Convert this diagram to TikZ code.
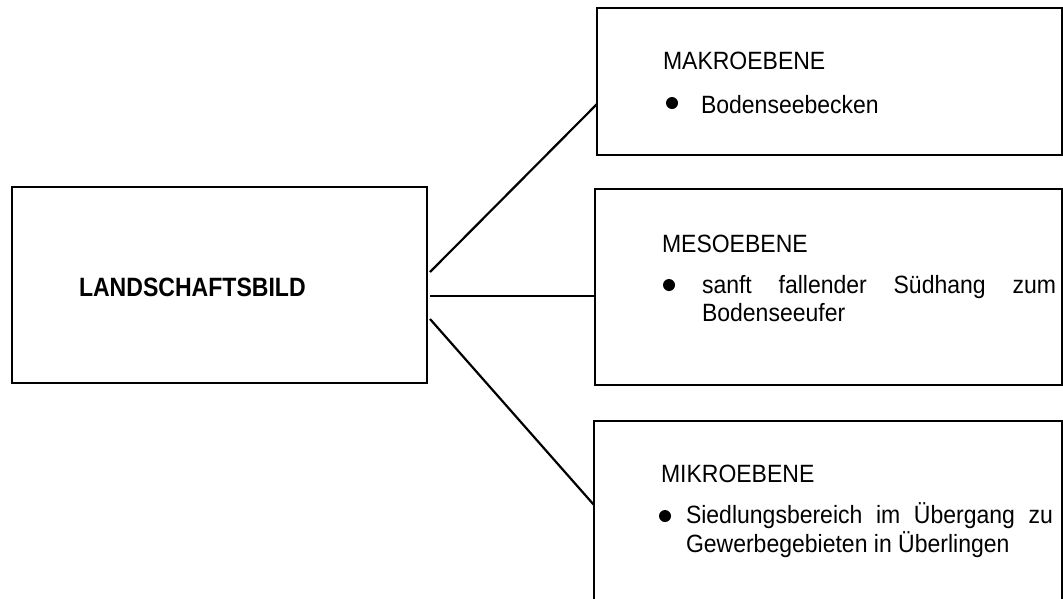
\documentclass[tikz,border=0pt]{standalone}
\usepackage{fontspec}
\setmainfont{Liberation Sans}[FakeStretch=0.92]
\newfontfamily\titlefont{Liberation Sans}[FakeStretch=0.87]
\usetikzlibrary{calc}
\begin{document}
\begin{tikzpicture}[x=1pt,y=-1pt,
  box/.style={draw, line width=2pt, inner sep=0pt, outer sep=0pt, anchor=north west},
  conn/.style={line width=2.2pt},
  txt/.style={anchor=base west, inner sep=0pt, outer sep=0pt, font=\fontsize{25}{30}\selectfont},
  bigtxt/.style={anchor=base west, inner sep=0pt, outer sep=0pt, font=\fontsize{26.5}{30}\titlefont\bfseries},
  bulletdot/.style={circle, fill, inner sep=0pt, outer sep=0pt, minimum size=12pt}]
\useasboundingbox (0,0) rectangle (1063,598);
\clip (0,0) rectangle (1063,598);
% boxes
\node[box, minimum width=415pt, minimum height=196pt] (L) at (12,187) {};
\node[box, minimum width=465pt, minimum height=147pt] (T) at (597,8) {};
\node[box, minimum width=467pt, minimum height=196pt] (M) at (595,189) {};
\node[box, minimum width=468pt, minimum height=220pt] (B) at (594,421) {};
% left label
\node[bigtxt] (Lt) at (79,296) {LANDSCHAFTSBILD};
% top box
\node[txt] (tH) at (663,69) {MAKROEBENE};
\node[bulletdot] (tD) at (672,103) {};
\node[txt] (tT) at (701,113) {Bodenseebecken};
% middle box
\node[txt] (mH) at (662,252) {MESOEBENE};
\node[bulletdot] (mD) at (669,285) {};
\node[txt] (mT1) at (702,293) {\makebox[354pt][s]{sanft fallender Südhang zum}};
\node[txt] (mT2) at (702,321) {Bodenseeufer};
% bottom box
\node[txt] (bH) at (661,482) {MIKROEBENE};
\node[bulletdot] (bD) at (665,516) {};
\node[txt] (bT1) at (686,523) {\makebox[367pt][s]{Siedlungsbereich im Übergang zu}};
\node[txt] (bT2) at (686,552) {Gewerbegebieten in Überlingen};
% connectors
\draw[conn] ($(L.north east)+(3,85)$) -- ($(T.north west)+(0,96)$);
\draw[conn] ($(L.north east)+(3,109)$) -- ($(M.north west)+(0,107)$);
\draw[conn] ($(L.north east)+(3,132)$) -- ($(B.north west)+(0,84)$);
\end{tikzpicture}
\end{document}
